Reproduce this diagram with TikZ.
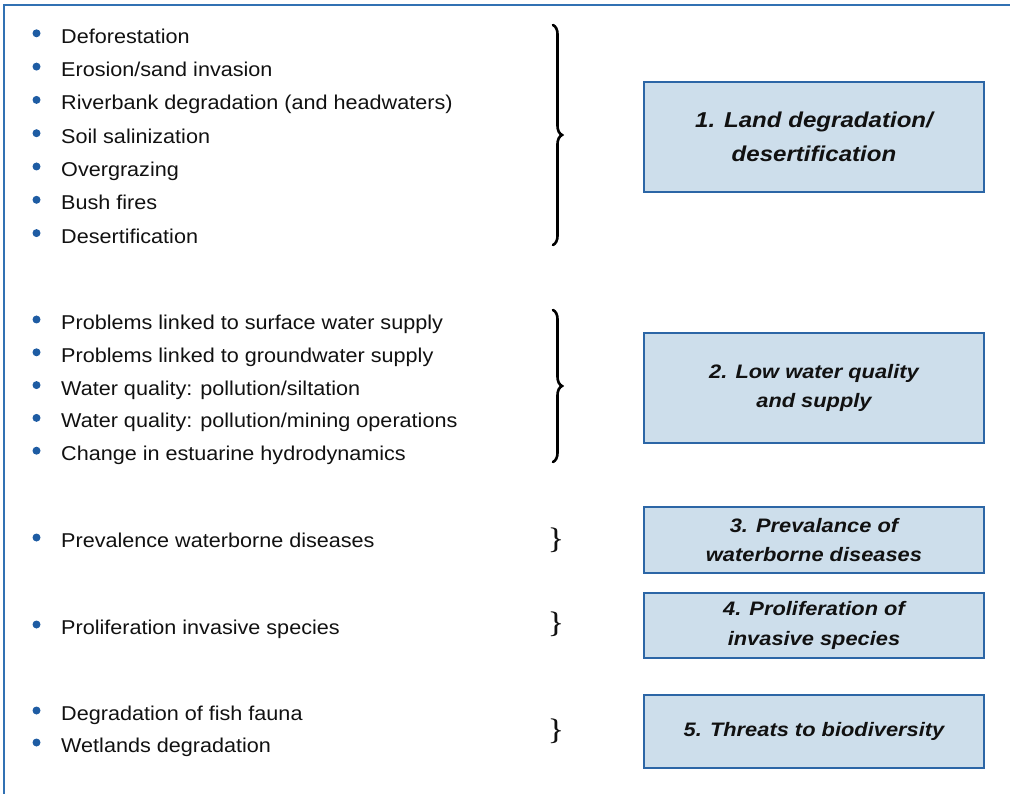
\documentclass[tikz,border=0pt]{standalone}
\usepackage{fontspec}
\setmainfont{Liberation Sans}
\newfontfamily\itemfont[FakeStretch=1.08]{Liberation Sans}
\newfontfamily\boxfont[FakeStretch=1.12]{Liberation Sans}
\usetikzlibrary{decorations.pathreplacing}
\definecolor{frameblue}{HTML}{3171B3}
\definecolor{boxfill}{HTML}{CDDEEB}
\definecolor{boxline}{HTML}{2C66A6}
\definecolor{dotblue}{HTML}{1E5CA3}
\definecolor{ink}{HTML}{111111}
\tikzset{
  item/.style={anchor=base west, inner sep=0pt, text=ink, font=\itemfont\fontsize{20}{24}\selectfont},
  dot/.style={circle, fill=dotblue, inner sep=0pt, minimum size=8pt},
  catbox/.style={draw=boxline, line width=1.3pt, fill=boxfill, minimum width=340pt, align=center, text=ink, inner sep=0pt, font=\boxfont\bfseries\itshape\fontsize{19.5}{29.5}\selectfont},
  bigbrace/.style={decorate, decoration={brace, amplitude=9pt, raise=0pt}, line width=2.6pt, line cap=round},
  smallbrace/.style={inner sep=0pt, text=ink, font=\fontsize{46}{46}\selectfont\boldmath},
  frame/.style={draw=frameblue, line width=1.5pt}
}
\begin{document}
\begin{tikzpicture}[x=1pt,y=-1pt]
\useasboundingbox (0,0) rectangle (1010,794);
% frame
\coordinate (fTR) at (1011,5);
\coordinate (fTL) at (4,5);
\coordinate (fBL) at (4,795);
\draw[frame] (fTR) -- (fTL) -- (fBL);

% group 1
\foreach \t [count=\i] in {Deforestation, Erosion/sand invasion, Riverbank degradation (and headwaters), Soil salinization, Overgrazing, Bush fires, Desertification}{
  \node[item] (ga\i) at (61, {43.3+33.3*(\i-1)}) {\t};
  \node[dot] (da\i) at (36.5, {33.3+33.3*(\i-1)}) {};
}
% group 2
\foreach \t [count=\i] in {Problems linked to surface water supply, Problems linked to groundwater supply, Water quality: pollution/siltation, Water quality: pollution/mining operations, Change in estuarine hydrodynamics}{
  \node[item] (gb\i) at (61, {329.5+32.8*(\i-1)}) {\t};
  \node[dot] (db\i) at (36.5, {319.5+32.8*(\i-1)}) {};
}
% group 3
\node[item] (gc1) at (61,547.5) {Prevalence waterborne diseases};
\node[dot] (dc1) at (36.5,537.5) {};
% group 4
\node[item] (gd1) at (61,634.5) {Proliferation invasive species};
\node[dot] (dd1) at (36.5,624.5) {};
% group 5
\node[item] (ge1) at (61,720.5) {Degradation of fish fauna};
\node[dot] (de1) at (36.5,710.5) {};
\node[item] (ge2) at (61,752.5) {Wetlands degradation};
\node[dot] (de2) at (36.5,742.5) {};

% braces
\coordinate (ba1) at (553,25);
\coordinate (ba2) at (553,245);
\draw[bigbrace] (ba1) -- (ba2);
\coordinate (bb1) at (553,310);
\coordinate (bb2) at (553,462);
\draw[bigbrace] (bb1) -- (bb2);
\node[smallbrace] (bc) at (556,540) {$\}$};
\node[smallbrace] (bd) at (556,624) {$\}$};
\node[smallbrace] (be) at (556,731) {$\}$};

% category boxes
\node[catbox, minimum height=110pt, font=\boxfont\bfseries\itshape\fontsize{21.5}{34}\selectfont] (c1) at (814,137) {1. Land degradation/\\desertification};
\node[catbox, minimum height=110pt] (c2) at (814,388) {2. Low water quality\\and supply};
\node[catbox, minimum height=66pt] (c3) at (814,540) {3. Prevalance of\\waterborne diseases};
\node[catbox, minimum height=65pt] (c4) at (814,625.5) {4. Proliferation of\\invasive species};
\node[catbox, minimum height=73pt] (c5) at (814,731.5) {5. Threats to biodiversity};
\end{tikzpicture}
\end{document}
